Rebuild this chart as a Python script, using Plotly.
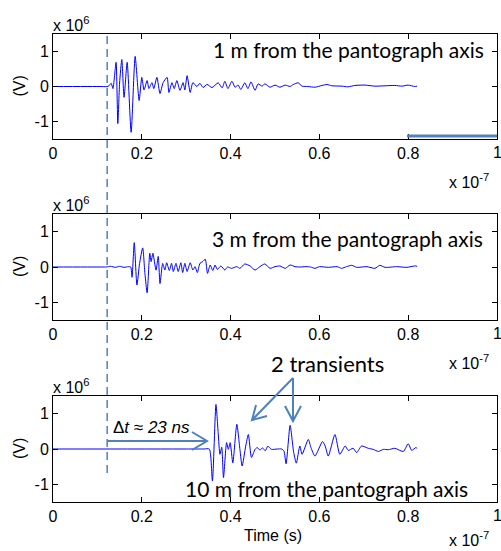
import plotly.graph_objects as go

# ---------------- data (time in units of 1e-7 s, voltage in units of 1e6 V) -------------
t_1m = [0, 0.110, 0.124, 0.131, 0.135, 0.142, 0.146, 0.150, 0.155, 0.160, 0.167, 0.176, 0.185, 0.194,
        0.200, 0.205, 0.212, 0.216, 0.223, 0.227, 0.234, 0.241, 0.248, 0.257, 0.261, 0.268,
        0.273, 0.279, 0.286, 0.293, 0.297, 0.302, 0.309, 0.315, 0.324, 0.331, 0.338, 0.347,
        0.358, 0.372, 0.381, 0.387, 0.394, 0.403, 0.410, 0.417, 0.423, 0.432, 0.439, 0.446,
        0.455, 0.462, 0.471, 0.477, 0.489, 0.500, 0.511, 0.523, 0.534, 0.541, 0.552, 0.561,
        0.574, 0.590, 0.606, 0.617, 0.628, 0.651, 0.664, 0.680, 0.703, 0.725, 0.748, 0.770,
        0.786, 0.800, 0.815, 0.820]
v_1m = [0, 0, 0, 0.09, -0.06, 0.69, -1.06, 0.10, 0.77, -0.31, 0.69, -1.31, 0.86, -0.40,
        0.26, -0.10, 0.17, -0.06, 0.11, -0.06, 0.26, -0.20, 0.11, 0.26, -0.17, 0.11,
        -0.06, 0.17, -0.11, 0.11, -0.10, 0.31, -0.17, 0.11, 0.00, 0.09, -0.03, 0.06,
        -0.03, 0.105, -0.04, 0.15, -0.06, 0.15, -0.02, 0.04, -0.085, 0.105, -0.06, 0.133,
        -0.11, 0.076, 0.01, 0.076, -0.02, 0.04, -0.02, 0.04, 0.00, 0.057, 0.105, 0.01,
        0.00, -0.02, 0.03, 0.057, 0.02, 0.01, -0.01, 0.03, 0.04, 0.01, 0.02, 0.03,
        0.01, 0.04, 0.00, 0.01]

t_3m = [0, 0.110, 0.120, 0.130, 0.140, 0.150, 0.160, 0.170, 0.175, 0.178, 0.183, 0.189, 0.195,
        0.202, 0.207, 0.212, 0.218, 0.221, 0.225, 0.232, 0.237, 0.241, 0.247, 0.252, 0.256,
        0.262, 0.267, 0.271, 0.277, 0.282, 0.288, 0.292, 0.297, 0.302, 0.309, 0.315, 0.320,
        0.325, 0.331, 0.337, 0.343, 0.348, 0.354, 0.360, 0.365, 0.370, 0.378, 0.387, 0.393,
        0.402, 0.414, 0.421, 0.432, 0.444, 0.455, 0.466, 0.477, 0.489, 0.500, 0.511, 0.523,
        0.534, 0.545, 0.556, 0.570, 0.580, 0.590, 0.600, 0.620, 0.640, 0.650, 0.661, 0.673,
        0.684, 0.707, 0.725, 0.736, 0.748, 0.774, 0.797, 0.815, 0.820]
v_3m = [0, 0, 0, 0.02, -0.01, 0.02, -0.01, 0.01, 0.00, -0.29, 0.69, -0.51, 0.10,
        0.54, -0.18, -0.73, 0.39, 0.15, 0.39, -0.09, 0.30, -0.47, 0.10, -0.086, 0.12,
        -0.10, 0.105, -0.129, 0.105, -0.129, 0.12, -0.157, 0.105, -0.129, 0.12, -0.086, 0.01,
        -0.157, 0.105, 0.152, 0.219, -0.18, 0.057, -0.10, 0.057, -0.067, 0.029, -0.086, 0.00,
        -0.038, 0.01, -0.038, 0.086, 0.029, -0.086, 0.01, 0.086, -0.038, 0.01, 0.029, -0.038,
        0.057, 0.01, 0.00, 0.01, 0.00, -0.038, 0.01, -0.01, 0.01, -0.038, 0.01, 0.048,
        -0.01, 0.01, -0.038, 0.048, -0.01, 0.01, -0.01, 0.03, 0.02]

t_10m = [0, 0.300, 0.340, 0.352, 0.359, 0.367, 0.372, 0.376, 0.380, 0.384, 0.391, 0.395, 0.399, 0.405,
         0.414, 0.421, 0.426, 0.434, 0.440, 0.447, 0.455, 0.460, 0.466, 0.472, 0.478, 0.484,
         0.492, 0.505, 0.515, 0.520, 0.525, 0.534, 0.542, 0.548, 0.556, 0.561, 0.575, 0.581,
         0.590, 0.607, 0.613, 0.620, 0.635, 0.646, 0.658, 0.665, 0.676, 0.684, 0.695, 0.710,
         0.721, 0.733, 0.744, 0.755, 0.770, 0.789, 0.800, 0.808, 0.817, 0.820]
v_10m = [0, 0, 0, 0, -0.90, 1.26, 0.46, -0.15, 0.05, -0.81, 0.18, -0.01, 0.18, -0.39,
         0.70, -0.01, -0.48, 0.08, 0.41, -0.24, -0.01, 0.04, -0.03, 0.03, -0.05, 0.08,
         -0.01, 0.00, 0.00, -0.05, -0.42, 0.67, -0.09, -0.40, 0.085, -0.15, 0.27, 0.04,
         -0.20, 0.21, 0.085, -0.20, 0.41, -0.15, 0.085, -0.04, 0.02, -0.10, 0.085, 0.02,
         -0.01, -0.07, -0.01, -0.02, 0.02, -0.07, 0.15, -0.04, 0.04, 0.02]

x_ticks = [0, 0.2, 0.4, 0.6, 0.8, 1]
x_tick_labels = ["0", "0.2", "0.4", "0.6", "0.8", "1"]
y_ticks = [-1, 0, 1]
y_tick_labels = ["-1", "0", "1"]
labels = ["1 m from the pantograph axis", "3 m from the pantograph axis",
          "10 m from the pantograph axis"]
t_ref = 0.122  # dashed reference instant

# ---------------- layout helpers (positions in window pixels) ----------------
W, H = 501, 551
def px(x):
    return x / W
def py(y):
    return 1 - y / H

ACCENT = "#4f81bd"
TICKFONT = dict(family="Liberation Sans, Arial", size=16, color="black")

fig = go.Figure()
series = [(t_1m, v_1m), (t_3m, v_3m), (t_10m, v_10m)]
boxes = [(34, 139), (214, 320), (396, 502)]
for i, (t, v) in enumerate(series):
    sfx = "" if i == 0 else str(i + 1)
    fig.add_trace(go.Scatter(x=t, y=v, mode="lines",
                             line=dict(color="#0000ff", width=1, shape="spline", smoothing=0.6),
                             xaxis="x" + sfx, yaxis="y" + sfx, showlegend=False,
                             hoverinfo="skip"))

# the last x tick label sits on the page edge, where plotly would hide it, so it is
# drawn as an annotation instead
shown_x_labels = x_tick_labels[:-1] + [""]

layout = dict(template="none", width=W, height=H, margin=dict(l=0, r=0, t=0, b=0, pad=0),
              paper_bgcolor="white", plot_bgcolor="white", showlegend=False)
for i, (top, bot) in enumerate(boxes):
    sfx = "" if i == 0 else str(i + 1)
    layout["xaxis" + sfx] = dict(domain=[px(53), px(497)], range=[0, 1], anchor="y" + sfx,
                                 tickvals=x_ticks, ticktext=shown_x_labels, ticks="inside",
                                 ticklen=5, tickcolor="black", showline=True, linecolor="black",
                                 linewidth=1, mirror="ticks", showgrid=False, zeroline=False,
                                 tickfont=TICKFONT, automargin=False)
    layout["yaxis" + sfx] = dict(domain=[py(bot), py(top)], range=[-1.5, 1.5], anchor="x" + sfx,
                                 tickvals=y_ticks, ticktext=y_tick_labels, ticks="inside",
                                 ticklen=5, tickcolor="black", showline=True, linecolor="black",
                                 linewidth=1, mirror="ticks", showgrid=False, zeroline=False,
                                 tickfont=TICKFONT, automargin=False)
fig.update_layout(**layout)

ann = []
def add_text(x, y, text, xa="center", ya="middle", size=16, family="Liberation Sans, Arial",
             color="black", angle=0, xref="paper"):
    ann.append(dict(x=px(x) if xref == "paper" else x, y=py(y), xref=xref, yref="paper",
                    text=text, showarrow=False, xanchor=xa, yanchor=ya, textangle=angle,
                    font=dict(family=family, size=size, color=color)))

CAL = "Lato, Carlito, Calibri"
exp_offsets = [42, 42, 37]
for i, (top, bot) in enumerate(boxes):
    sfx = "" if i == 0 else str(i + 1)
    add_text(51, top - 10, "x 10<sup>6</sup>", xa="left")
    add_text(447, bot + exp_offsets[i], "x 10<sup>-7</sup>", xa="left")
    add_text(19, (top + bot) / 2, "(V)", angle=-90)
    add_text(x_ticks[-1], bot + 13, x_tick_labels[-1], xref="x" + sfx)
add_text(486, 49, labels[0], xa="right", size=21, family=CAL)
add_text(485, 238, labels[1], xa="right", size=21, family=CAL)
add_text(183, 488, labels[2], xa="left", size=21, family=CAL)
add_text(327, 363, "2 transients", size=22, family=CAL)
add_text(111, 428, "Δ<i>t</i> ≈ <i>23 ns</i>", xa="left", size=17)
add_text(273, 535, "Time (s)", size=16)
fig.update_layout(annotations=ann)

shapes = []
# dashed reference line across all panels
shapes.append(dict(type="line", xref="x", yref="paper", x0=t_ref, x1=t_ref, y0=py(36), y1=py(478),
                   line=dict(color=ACCENT, width=1.5, dash="8px,5px")))
def path(points):
    d = "M " + " L ".join(f"{px(x):.5f},{py(y):.5f}" for x, y in points)
    return dict(type="path", xref="paper", yref="paper", path=d,
                line=dict(color=ACCENT, width=2))
# delta-t arrow
shapes.append(path([(107, 441), (207, 441)]))
shapes.append(path([(192, 432), (207, 441), (192, 450)]))
# "2 transients" arrows
shapes.append(path([(293, 378), (252, 420)]))
shapes.append(path([(267, 416), (252, 420), (256, 405)]))
shapes.append(path([(293, 378), (293, 421)]))
shapes.append(path([(285, 406), (293, 421), (301, 406)]))
# stray bar at lower right of top panel
shapes.append(dict(type="line", xref="paper", yref="paper", x0=px(407), x1=px(497),
                   y0=py(136), y1=py(136), line=dict(color=ACCENT, width=3)))
fig.update_layout(shapes=shapes)

# remove the default page margin so the figure fills the window exactly
fig.write_html("out.html", config={"displayModeBar": False},
               post_script="document.body.style.margin='0';"
                           "document.body.style.overflow='hidden';")
